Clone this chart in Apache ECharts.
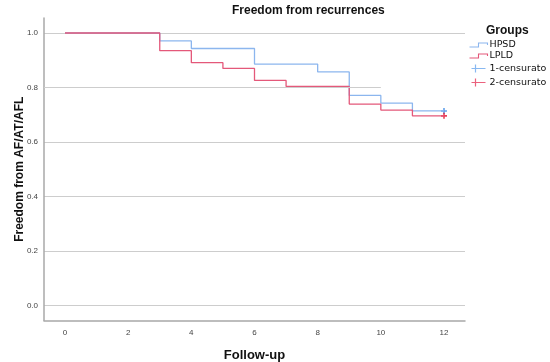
<!DOCTYPE html>
<html>
<head>
<meta charset="utf-8">
<script src="https://cdn.jsdelivr.net/npm/echarts@6/dist/echarts.min.js"></script>
<style>html,body{margin:0;padding:0;background:#fff}#c{width:550px;height:362px}</style>
</head>
<body>
<div id="c"></div>
<script>
// Kaplan-Meier steps
const hpsdTimes = [0, 3, 4, 6, 8, 9, 10, 11, 12];
const hpsdSurv  = [1.0, 0.971, 0.943, 0.886, 0.857, 0.771, 0.743, 0.714, 0.714];
const lpldTimes = [0, 3, 4, 5, 6, 7, 9, 10, 11, 12];
const lpldSurv  = [1.0, 0.935, 0.891, 0.870, 0.826, 0.804, 0.739, 0.717, 0.696, 0.696];
const cens1Times = [12];
const cens1Surv  = [0.714];
const cens2Times = [12];
const cens2Surv  = [0.696];
const xTicks = [0, 2, 4, 6, 8, 10, 12];
const yTicks = [0.0, 0.2, 0.4, 0.6, 0.8, 1.0];
const yGridFull = [0.0, 0.2, 0.4, 0.6, 1.0];
const partialGridY = 0.8, partialGridEnd = 10;

const zip = (a, b) => a.map((v, i) => [v, b[i]]);
const XMIN = -0.665, XMAX = 12.665;

const blue = '#8cb6ee', red = '#e4587a';
const blueMark = '#3a8ae6', redMark = '#e3122f';
const stepIcon = 'path://M0,4 L9,4 L9,0 L18,0 L18,2';
const censIcon = 'path://M0,4 L14,4 M4,0 L4,8';
const plus = 'path://M3,0 L3,6 M0,3 L6,3';

const chart = echarts.init(document.getElementById('c'));
chart.setOption({
  backgroundColor: '#fff',
  animation: false,
  title: [
    { text: 'Freedom from recurrences', left: 232, top: 5, padding: 0,
      textStyle: { fontFamily: 'Liberation Sans', fontSize: 12, fontWeight: 'bold', color: '#111' } },
    { text: 'Groups', left: 486, top: 25, padding: 0,
      textStyle: { fontFamily: 'Liberation Sans', fontSize: 12, fontWeight: 'bold', color: '#111' } }
  ],
  legend: {
    orient: 'vertical', left: 467, top: 40, padding: 0,
    itemWidth: 18, itemHeight: 8, itemGap: 1,
    textStyle: { fontFamily: 'DejaVu Sans', fontSize: 9.5, lineHeight: 10, color: '#111', padding: [0, 0, 0, -3] },
    data: [
      { name: 'HPSD', icon: stepIcon, itemStyle: { color: 'none', borderColor: blue, borderWidth: 1.1 } },
      { name: 'LPLD', icon: stepIcon, itemStyle: { color: 'none', borderColor: red, borderWidth: 1.1 } },
      { name: '1-censurato', icon: censIcon, itemStyle: { color: 'none', borderColor: '#6aa6ee', borderWidth: 1.2 } },
      { name: '2-censurato', icon: censIcon, itemStyle: { color: 'none', borderColor: '#e6395c', borderWidth: 1.2 } }
    ]
  },
  grid: { left: 44, right: 85, top: 18, bottom: 41.5, containLabel: false, outerBoundsMode: 'none' },
  xAxis: {
    type: 'value', min: XMIN, max: XMAX,
    name: 'Follow-up', nameLocation: 'middle', nameGap: 28, nameMoveOverlap: false,
    nameTextStyle: { fontFamily: 'Liberation Sans', fontSize: 13, fontWeight: 'bold', color: '#111' },
    axisLine: { show: true, onZero: false, lineStyle: { color: '#a8a8a8', width: 1.5 } },
    axisTick: { show: false, customValues: xTicks },
    axisLabel: { customValues: xTicks, margin: 8, fontFamily: 'Liberation Sans', fontSize: 8, color: '#444' },
    splitLine: { show: false }
  },
  yAxis: {
    type: 'value', min: -0.055, max: 1.055,
    name: 'Freedom from AF/AT/AFL', nameLocation: 'middle', nameGap: 18, nameRotate: 90, nameMoveOverlap: false,
    nameTextStyle: { fontFamily: 'Liberation Sans', fontSize: 12, fontWeight: 'bold', color: '#111' },
    axisLine: { show: true, onZero: false, lineStyle: { color: '#a8a8a8', width: 1.5 } },
    axisTick: { show: false, customValues: yGridFull },
    axisLabel: { customValues: yTicks, margin: 6, fontFamily: 'Liberation Sans', fontSize: 8, color: '#444',
      formatter: v => v.toFixed(1) },
    splitLine: { show: true, lineStyle: { color: '#cdcdcd', width: 1 } }
  },
  series: [
    { name: 'HPSD', type: 'line', step: 'end', showSymbol: false, symbol: 'none',
      data: zip(hpsdTimes, hpsdSurv), lineStyle: { color: blue, width: 1.3 }, itemStyle: { color: blue },
      markLine: { silent: true, symbol: 'none', label: { show: false },
        lineStyle: { color: '#cdcdcd', width: 1, type: 'solid' },
        data: [[{ coord: [XMIN, partialGridY] }, { coord: [partialGridEnd, partialGridY] }]] } },
    { name: 'LPLD', type: 'line', step: 'end', showSymbol: false, symbol: 'none',
      data: zip(lpldTimes, lpldSurv), lineStyle: { color: red, width: 1.3 }, itemStyle: { color: red } },
    { name: '1-censurato', type: 'scatter', symbol: plus, symbolSize: 6,
      data: zip(cens1Times, cens1Surv), itemStyle: { color: blueMark, borderColor: blueMark, borderWidth: 1.6 } },
    { name: '2-censurato', type: 'scatter', symbol: plus, symbolSize: 6,
      data: zip(cens2Times, cens2Surv), itemStyle: { color: redMark, borderColor: redMark, borderWidth: 1.6 } }
  ]
});
</script>
</body>
</html>
